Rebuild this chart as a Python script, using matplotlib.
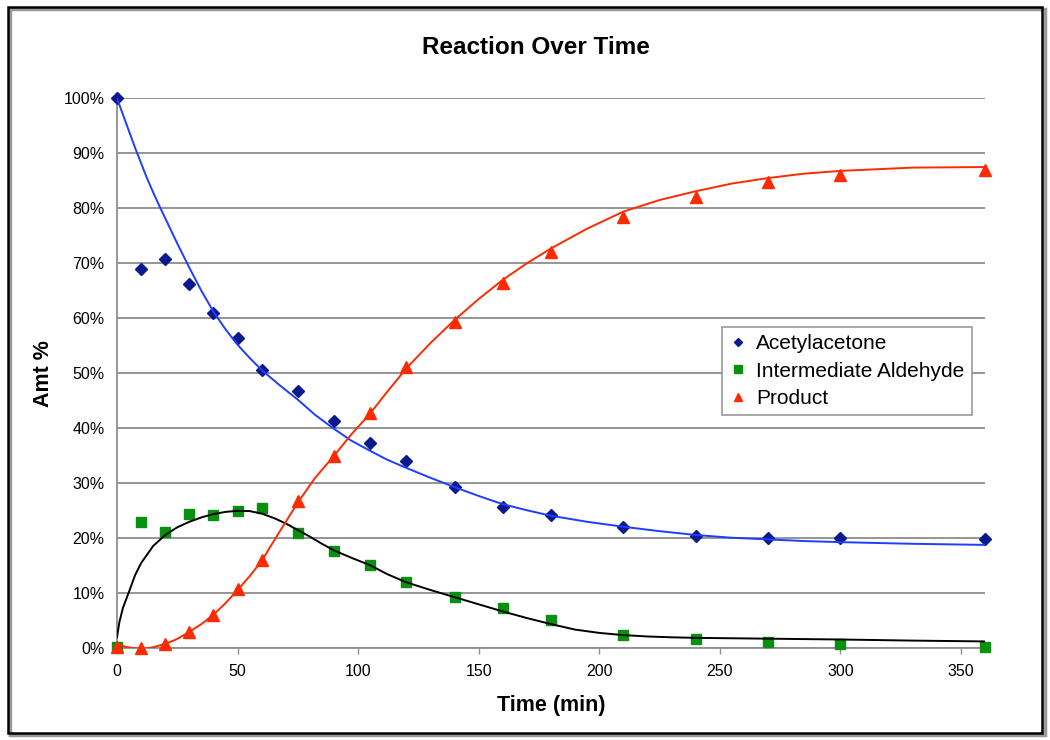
"""
Reaction over time: measured amounts with trendlines.
"""
import matplotlib
matplotlib.use("Agg")
import matplotlib.pyplot as plt
from matplotlib.patches import Rectangle
from matplotlib.ticker import FuncFormatter

plt.rcParams["font.family"] = ["Liberation Sans", "DejaVu Sans"]

# ---- measured points ----
time_min = [0, 10, 20, 30, 40, 50, 60, 75, 90, 105, 120, 140, 160, 180, 210, 240, 270, 300, 360]
acetylacetone = [100, 69.0, 70.8, 66.2, 61.0, 56.5, 50.6, 46.7, 41.4, 37.3, 34.1, 29.4, 25.7, 24.3,
                 22.1, 20.5, 20.0, 20.0, 19.8]
aldehyde = [0.3, 22.9, 21.1, 24.4, 24.3, 25.0, 25.5, 21.0, 17.7, 15.1, 12.1, 9.3, 7.3, 5.2,
            2.5, 1.7, 1.1, 0.8, 0.3]
product = [0.3, 0.0, 0.8, 3.0, 6.1, 10.7, 16.0, 26.7, 35.0, 42.8, 51.1, 59.4, 66.5, 72.1,
           78.4, 82.1, 84.8, 86.1, 87.0]

# ---- trendlines ----
acet_fit_t = [0, 2.5, 5, 7.5, 10, 12.5, 15, 17.5, 20, 25, 30, 35, 40, 45, 50, 55, 60, 67, 75, 82, 90,
              97, 105, 112, 120, 130, 140, 150, 160, 170, 180, 195, 210, 225, 240, 255, 270, 285,
              300, 330, 360]
acet_fit_v = [100, 97.0, 94.0, 91.0, 88.2, 85.4, 82.9, 80.5, 78.2, 73.6, 69.2, 65.0, 61.2, 58.0,
              55.2, 52.8, 50.6, 48.0, 45.2, 42.5, 39.9, 37.8, 35.9, 34.3, 32.8, 31.0, 29.3, 27.7,
              26.2, 25.1, 24.1, 23.0, 22.1, 21.3, 20.6, 20.1, 19.8, 19.5, 19.3, 19.0, 18.8]
ald_fit_t = [0, 1, 2.5, 5, 7.5, 10, 15, 20, 25, 30, 35, 40, 45, 50, 55, 60, 65, 70, 75, 80, 85, 90,
             97, 105, 112, 120, 130, 140, 150, 160, 170, 180, 190, 200, 210, 220, 230, 240, 270,
             300, 330, 360]
ald_fit_v = [2.0, 4.8, 7.4, 10.3, 13.3, 15.5, 18.6, 20.6, 22.0, 23.0, 23.8, 24.4, 24.8, 25.0,
             24.95, 24.5, 23.7, 22.7, 21.5, 20.3, 19.0, 17.8, 16.5, 15.1, 13.5, 12.0, 10.6, 9.3,
             8.0, 6.7, 5.5, 4.4, 3.4, 2.8, 2.4, 2.15, 2.0, 1.9, 1.75, 1.6, 1.4, 1.25]
prod_fit_t = [0, 2.5, 5, 7.5, 10, 12.5, 15, 17.5, 20, 25, 30, 35, 40, 45, 50, 55, 60, 67, 75, 82, 90,
              97, 105, 112, 120, 130, 140, 150, 160, 170, 180, 195, 210, 225, 240, 255, 270, 285,
              300, 330, 360]
prod_fit_v = [0.8, 0.4, 0.15, 0.0, -0.1, 0.0, 0.2, 0.5, 0.8, 1.7, 3.0, 4.4, 6.1, 8.2, 10.6, 13.1,
              15.9, 20.9, 26.5, 30.9, 35.0, 38.8, 42.7, 46.6, 50.9, 55.5, 59.7, 63.5, 67.0, 70.0,
              72.7, 76.3, 79.4, 81.5, 83.1, 84.5, 85.5, 86.3, 86.8, 87.4, 87.5]

x_ticks = [0, 50, 100, 150, 200, 250, 300, 350]
y_ticks = [0, 10, 20, 30, 40, 50, 60, 70, 80, 90, 100]

fig = plt.figure(figsize=(10.5, 7.4), dpi=100)
ax = fig.add_axes([117 / 1050, 1 - 648.3 / 740, 868 / 1050, 550 / 740])

# points
ax.plot(time_min, acetylacetone, ls="none", marker="D", ms=6.5, color="#0a1a8c",
        label="Acetylacetone", zorder=3, clip_on=False)
ax.plot(time_min, aldehyde, ls="none", marker="s", ms=7.5, color="#0a9010",
        label="Intermediate Aldehyde", zorder=3, clip_on=False)
ax.plot(time_min, product, ls="none", marker="^", ms=8.5, color="#ff2a00",
        label="Product", zorder=3, clip_on=False)

# trendlines on top, as Excel draws them
ax.plot(acet_fit_t, acet_fit_v, color="#1f3dff", lw=1.4, zorder=4)
ax.plot(ald_fit_t, ald_fit_v, color="black", lw=1.4, zorder=4)
ax.plot(prod_fit_t, prod_fit_v, color="#ff2a00", lw=1.4, zorder=4)

ax.set_xlim(0, 360)
ax.set_ylim(0, 100)
ax.set_xticks(x_ticks)
ax.set_yticks(y_ticks)
ax.yaxis.set_major_formatter(FuncFormatter(lambda v, _: f"{v:.0f}%"))
ax.tick_params(axis="x", length=4, width=1, color="#909090", pad=7, labelsize=11.5)
ax.tick_params(axis="y", length=0, pad=9, labelsize=11.5)
ax.grid(axis="y", color="#8c8c8c", lw=1.3)
ax.set_axisbelow(True)
for side in ["top", "right"]:
    ax.spines[side].set_visible(False)
for side in ["left", "bottom"]:
    ax.spines[side].set_color("#909090")
    ax.spines[side].set_linewidth(1.3)

ax.set_xlabel("Time (min)", fontsize=15.5, fontweight="bold", labelpad=12)
ax.set_ylabel("Amt %", fontsize=15.5, fontweight="bold", labelpad=7)
fig.text(536 / 1050, 1 - 47 / 740, "Reaction Over Time", fontsize=17.5, fontweight="bold",
         ha="center", va="center")

leg = ax.legend(loc="upper left", bbox_to_anchor=(0.697, 0.584), borderaxespad=0,
                fontsize=15, markerscale=0.7, handlelength=0.8, handletextpad=0.5,
                labelspacing=0.4, borderpad=0.35, fancybox=False, framealpha=1)
leg.get_frame().set_edgecolor("#9a9a9a")
leg.get_frame().set_linewidth(1.2)
leg.set_zorder(5)

# chart border with a light shadow
fig.patches.append(Rectangle((10 / 1050, 5 / 740), 1035 / 1050, 726 / 740, transform=fig.transFigure,
                             fill=False, ec="#9a9a9a", lw=2.5))
fig.patches.append(Rectangle((8 / 1050, 7 / 740), 1034 / 1050, 726 / 740, transform=fig.transFigure,
                             fill=False, ec="black", lw=1.8))

fig.savefig("out.png", dpi=100)
